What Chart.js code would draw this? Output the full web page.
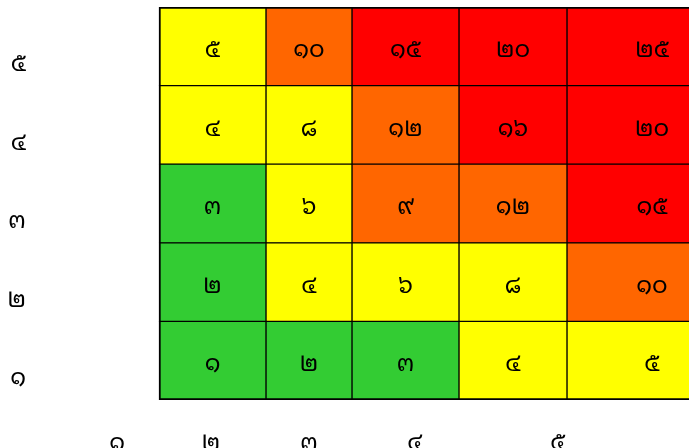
<!DOCTYPE html>
<html>
<head>
<meta charset="utf-8">
<script src="https://cdn.jsdelivr.net/npm/chart.js@4.4.0/dist/chart.umd.min.js"></script>
<style>
  html, body { margin: 0; padding: 0; background: #fff; }
  #wrap { width: 689px; height: 448px; }
</style>
</head>
<body>
<div id="wrap"><canvas id="riskChart"></canvas></div>
<script>
// rows top to bottom (likelihood), columns left to right (impact)
const rowLabels = ['๕', '๔', '๓', '๒', '๑']
const colLabels = ['๑', '๒', '๓', '๔', '๕']
const rowValues = [5, 4, 3, 2, 1]
const colValues = [1, 2, 3, 4, 5]

// column boundaries and tick label spots on the x value axis
const colEdges = [1.25, 2.32, 3.18, 4.25, 5.33, 7.03]
const xTickValues = [0.83, 1.77, 2.75, 3.81, 5.24]

const thaiFont = '"Noto Sans Thai Looped", sans-serif'
const thaiDigits = ['๐', '๑', '๒', '๓', '๔', '๕', '๖', '๗', '๘', '๙']
function toThai(n) {
  return String(n).split('').map(d => thaiDigits[+d]).join('')
}

function riskColor(score) {
  if (score <= 3) return '#33cc33'
  if (score <= 8) return '#ffff00'
  if (score <= 12) return '#ff6600'
  return '#ff0000'
}

// one dataset per column, one floating bar per row
const datasets = colValues.map(function(c, ci) {
  return {
    label: colLabels[ci],
    data: rowValues.map(() => [colEdges[ci], colEdges[ci + 1]]),
    scores: rowValues.map(r => r * c),
    backgroundColor: rowValues.map(r => riskColor(r * c)),
    borderColor: '#000',
    borderSkipped: false,
    borderWidth: function(ctx) {
      const ri = ctx.dataIndex
      return {
        left: ci === 0 ? 2 : 1,
        right: 1,
        top: ri === 0 ? 2 : 1,
        bottom: ri === rowValues.length - 1 ? 2 : 1
      }
    },
    grouped: false,
    barPercentage: 1,
    categoryPercentage: 1
  }
})

// write the score in the middle of each cell
const cellText = {
  id: 'cellText',
  afterDatasetsDraw(chart) {
    const ctx = chart.ctx
    ctx.save()
    ctx.font = '24px ' + thaiFont
    ctx.fillStyle = '#000'
    ctx.textAlign = 'center'
    ctx.textBaseline = 'middle'
    chart.data.datasets.forEach(function(ds, di) {
      chart.getDatasetMeta(di).data.forEach(function(bar, i) {
        ctx.fillText(toThai(ds.scores[i]), (bar.x + bar.base) / 2, bar.y + 4)
      })
    })
    ctx.restore()
  }
}

new Chart(document.getElementById('riskChart'), {
  type: 'bar',
  data: { labels: rowLabels, datasets: datasets },
  options: {
    indexAxis: 'y',
    responsive: true,
    maintainAspectRatio: false,
    animation: false,
    layout: { padding: { top: 7, right: 0, bottom: 0, left: 0 } },
    plugins: {
      legend: { display: false },
      tooltip: { enabled: false }
    },
    scales: {
      x: {
        type: 'linear',
        min: 0,
        max: 6.55,
        grid: { display: false },
        border: { display: false },
        afterFit: function(scale) {
          scale.height = 48
          scale.paddingLeft = 0
          scale.paddingRight = 0
        },
        afterBuildTicks: function(scale) {
          scale.ticks = xTickValues.map(v => ({ value: v }))
        },
        ticks: {
          autoSkip: false,
          maxRotation: 0,
          padding: 21,
          color: '#000',
          font: { size: 24, family: thaiFont },
          callback: function(value, index) { return colLabels[index] }
        }
      },
      y: {
        type: 'category',
        grid: { display: false },
        border: { display: false },
        afterFit: function(scale) {
          scale.width = 34
          scale.paddingTop = 0
          scale.paddingBottom = 0
        },
        ticks: {
          padding: 0,
          labelOffset: 18,
          color: '#000',
          font: { size: 24, family: thaiFont }
        }
      }
    }
  },
  plugins: [cellText]
})
</script>
</body>
</html>
